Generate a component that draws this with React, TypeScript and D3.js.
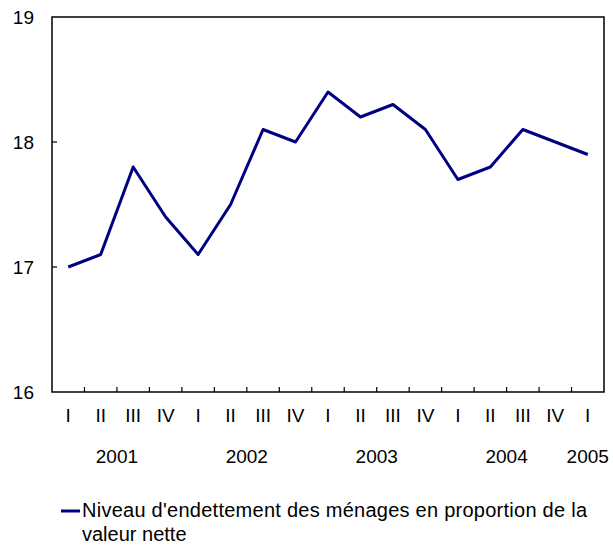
import React, { useRef, useEffect } from "react";
import { select, scaleLinear, scaleBand, line } from "d3";

const quarters = ["I", "II", "III", "IV", "I", "II", "III", "IV", "I", "II", "III", "IV", "I", "II", "III", "IV", "I"];
const years = ["2001", "2002", "2003", "2004", "2005"];
const yearSpans = [4, 4, 4, 4, 1];
const values = [17.0, 17.1, 17.8, 17.4, 17.1, 17.5, 18.1, 18.0, 18.4, 18.2, 18.3, 18.1, 17.7, 17.8, 18.1, 18.0, 17.9];
const yTicks = [16, 17, 18, 19];
const legendLines = ["Niveau d'endettement des ménages en proportion de la", "valeur nette"];

function App() {
  const svgRef = useRef(null);

  useEffect(() => {
    const svg = select(svgRef.current);
    svg.selectAll("*").remove();

    const left = 52, right = 604, top = 17, bottom = 392;
    const font = "'Liberation Sans', Arial, sans-serif";
    const keys = quarters.map((q, i) => i);

    const x = scaleBand().domain(keys).range([left, right]);
    const y = scaleLinear().domain([16, 19]).range([bottom, top]);

    // frame
    svg.append("rect")
      .attr("x", left).attr("y", top)
      .attr("width", right - left).attr("height", bottom - top)
      .attr("fill", "none").attr("stroke", "#000").attr("stroke-width", 1.5);

    // y ticks + labels
    svg.selectAll(".ytick")
      .data(yTicks.slice(1, -1))
      .join("line")
      .attr("x1", left).attr("x2", left + 5)
      .attr("y1", d => y(d)).attr("y2", d => y(d))
      .attr("stroke", "#000").attr("stroke-width", 1.2);

    svg.selectAll(".ylab")
      .data(yTicks)
      .join("text")
      .attr("x", 34).attr("y", d => y(d) + 7)
      .attr("text-anchor", "end")
      .attr("font-family", font).attr("font-size", 19)
      .text(d => d);

    // x ticks at band boundaries
    svg.selectAll(".xtick")
      .data(keys.slice(1))
      .join("line")
      .attr("x1", d => x(d)).attr("x2", d => x(d))
      .attr("y1", bottom).attr("y2", bottom - 5)
      .attr("stroke", "#000").attr("stroke-width", 1.2);

    svg.selectAll(".qlab")
      .data(quarters)
      .join("text")
      .attr("x", (d, i) => x(i) + x.bandwidth() / 2)
      .attr("y", 422)
      .attr("text-anchor", "middle")
      .attr("font-family", font).attr("font-size", 19)
      .text(d => d);

    let start = 0;
    const yearPos = yearSpans.map(s => {
      const p = x(start) + (s * x.bandwidth()) / 2;
      start += s;
      return p;
    });
    svg.selectAll(".ylabyr")
      .data(years)
      .join("text")
      .attr("x", (d, i) => yearPos[i])
      .attr("y", 463)
      .attr("text-anchor", "middle")
      .attr("font-family", font).attr("font-size", 19)
      .text(d => d);

    // series line
    const gen = line()
      .x((d, i) => x(i) + x.bandwidth() / 2)
      .y(d => y(d));
    svg.append("path")
      .datum(values)
      .attr("d", gen)
      .attr("fill", "none")
      .attr("stroke", "#000080")
      .attr("stroke-width", 3)
      .attr("stroke-linejoin", "round");

    // legend
    svg.append("line")
      .attr("x1", 61).attr("x2", 80)
      .attr("y1", 511).attr("y2", 511)
      .attr("stroke", "#000080").attr("stroke-width", 3);
    svg.selectAll(".leg")
      .data(legendLines)
      .join("text")
      .attr("x", 82)
      .attr("y", (d, i) => 517 + i * 24)
      .attr("font-family", font).attr("font-size", 20)
      .attr("textLength", (d, i) => (i === 0 ? 505 : null))
      .attr("lengthAdjust", "spacing")
      .text(d => d);
  }, []);

  return (
    <svg ref={svgRef} width={613} height={551} style={{ position: "absolute", left: 0, top: 0 }}></svg>
  );
}

export default App;
